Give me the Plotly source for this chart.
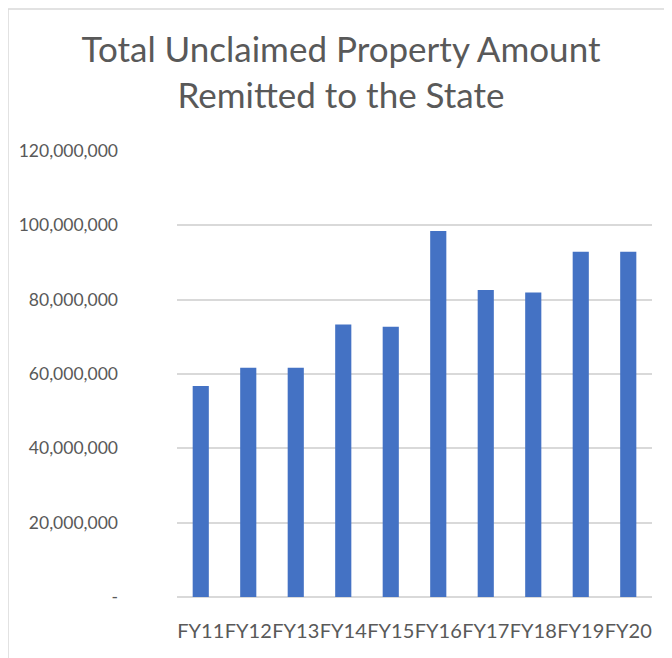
import plotly.graph_objects as go

categories = ["FY11", "FY12", "FY13", "FY14", "FY15", "FY16", "FY17", "FY18", "FY19", "FY20"]
amounts = [56_800_000, 61_700_000, 61_700_000, 73_300_000, 72_700_000,
           98_500_000, 82_600_000, 81_900_000, 92_900_000, 92_900_000]
tick_vals = [0, 20_000_000, 40_000_000, 60_000_000, 80_000_000, 100_000_000, 120_000_000]
tick_text = ["-", "20,000,000", "40,000,000", "60,000,000", "80,000,000", "100,000,000", "120,000,000"]

FONT = "Lato, Calibri, 'Open Sans', sans-serif"
GRAY = "#595959"

fig = go.Figure(go.Bar(x=categories, y=amounts, marker_color="#4472C4",
                       marker_line_width=0, width=0.34))

W, H = 664, 650
L, R, T, B = 169, 20, 143, 61
pw = W - L - R
ph = H - T - B

fig.update_layout(
    width=W, height=H,
    margin=dict(l=L, r=R, t=T, b=B, autoexpand=False),
    paper_bgcolor="white", plot_bgcolor="white",
    showlegend=False,
    font=dict(family=FONT, color=GRAY),
    title=dict(text="Total Unclaimed Property Amount<br>Remitted to the State",
               x=333 / W, xanchor="center", y=1 - 54 / H, yanchor="top",
               font=dict(family=FONT, size=35, color=GRAY)),
    xaxis=dict(showgrid=False, showline=False, ticks="", tickangle=0, automargin=False,
               tickfont=dict(size=20, color=GRAY), ticklabelstandoff=20),
    yaxis=dict(range=[0, 120_000_000], tickvals=tick_vals, ticktext=tick_text,
               showgrid=True, gridcolor="#D9D9D9", gridwidth=1.5, automargin=False,
               zeroline=True, zerolinecolor="#D9D9D9", zerolinewidth=1.5,
               tickfont=dict(size=17.5, color=GRAY), ticks="", ticklabelstandoff=58,
               showline=False),
    shapes=[dict(type="rect", xref="paper", yref="paper",
                 x0=-L / pw, x1=(W + 10 - L) / pw,
                 y0=-(B + 10) / ph, y1=1 + (T - 1) / ph,
                 line=dict(color="#D9D9D9", width=1.5), fillcolor="rgba(0,0,0,0)", layer="below")],
)

fig.write_html("out.html")
